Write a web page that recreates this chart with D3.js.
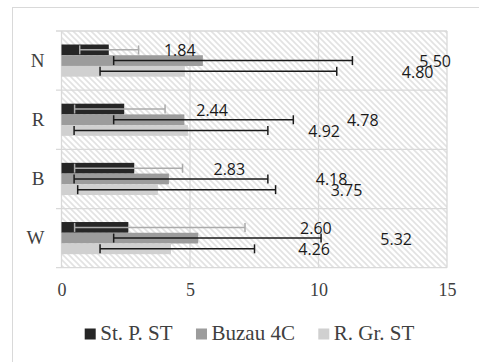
<!DOCTYPE html>
<html>
<head>
<meta charset="utf-8">
<script src="https://cdn.jsdelivr.net/npm/d3@7"></script>
<style>
  html, body { margin: 0; padding: 0; background: #ffffff; }
  svg { display: block; }
</style>
</head>
<body>
<svg id="chart" width="479" height="362"></svg>
<script>
// ---- data ----
const categories = ["N", "R", "B", "W"];
const seriesNames = ["St. P. ST", "Buzau 4C", "R. Gr. ST"];
// mean values per category, per series
const stpValues   = [1.84, 2.44, 2.83, 2.60];
const buzauValues = [5.50, 4.78, 4.18, 5.32];
const rgrValues   = [4.80, 4.92, 3.75, 4.26];
// error bar extents (low / high)
const stpErrLow    = [0.71, 0.51, 0.51, 0.51];
const stpErrHigh   = [3.00, 4.03, 4.71, 7.14];
const buzauErrLow  = [2.03, 2.03, 0.49, 2.03];
const buzauErrHigh = [11.32, 9.02, 8.03, 10.10];
const rgrErrLow    = [1.50, 0.49, 0.63, 1.50];
const rgrErrHigh   = [10.71, 8.03, 8.33, 7.51];
// data-label anchor positions (in value units, as placed in the original)
const stpLabelAt   = [4.60, 5.86, 6.53, 9.90];
const buzauLabelAt = [14.54, 11.72, 10.51, 13.02];
const rgrLabelAt   = [13.86, 10.22, 11.09, 9.83];
const xTicks = [0, 5, 10, 15];

// ---- build ----
const SERIF = "Liberation Serif, Tinos, Times New Roman, Times, Noto Serif, DejaVu Serif, FreeSerif, serif";
const SANS = "Open Sans, Liberation Sans, sans-serif";

const series = [
  { name: seriesNames[0], values: stpValues, lo: stpErrLow, hi: stpErrHigh, lab: stpLabelAt, color: "#262626", err: "#ababab" },
  { name: seriesNames[1], values: buzauValues, lo: buzauErrLow, hi: buzauErrHigh, lab: buzauLabelAt, color: "#9c9c9c", err: "#1a1a1a" },
  { name: seriesNames[2], values: rgrValues, lo: rgrErrLow, hi: rgrErrHigh, lab: rgrLabelAt, color: "#d0d0d0", err: "#1a1a1a" }
];

const svg = d3.select("#chart");
const W = 479, H = 362;
const plot = { left: 61.5, right: 447, top: 31, bottom: 267.7 };

// chart border
svg.append("rect").attr("x", 12.5).attr("y", 7.5).attr("width", W).attr("height", H)
  .attr("fill", "#fff").attr("stroke", "#d9d9d9").attr("stroke-width", 1);

// hatch pattern
const defs = svg.append("defs");
const pat = defs.append("pattern").attr("id", "hatch").attr("patternUnits", "userSpaceOnUse")
  .attr("width", 6).attr("height", 6);
pat.append("rect").attr("width", 6).attr("height", 6).attr("fill", "#ffffff");
pat.append("path").attr("d", "M-1,-1 L7,7 M-1,5 L1,7 M5,-1 L7,1")
  .attr("stroke", "#e2e2e2").attr("stroke-width", 1.6);

const x = d3.scaleLinear().domain([0, 15]).range([plot.left, plot.right]);
const y0 = d3.scaleBand().domain(categories).range([plot.top, plot.bottom]).paddingInner(0).paddingOuter(0);
const y1 = d3.scaleBand().domain(d3.range(series.length)).range([0, y0.bandwidth()])
  .paddingInner(0).paddingOuter(1.26);

// plot background
svg.append("rect").attr("x", plot.left).attr("y", plot.top)
  .attr("width", plot.right - plot.left).attr("height", plot.bottom - plot.top)
  .attr("fill", "url(#hatch)");

// vertical gridlines
svg.append("g").selectAll("line").data(xTicks).join("line")
  .attr("x1", d => x(d)).attr("x2", d => x(d))
  .attr("y1", plot.top).attr("y2", plot.bottom)
  .attr("stroke", "#d9d9d9").attr("stroke-width", 1.3);

// horizontal category separators (with outward ticks)
const edges = categories.map(c => y0(c)).concat([plot.bottom]);
svg.append("g").selectAll("line").data(edges).join("line")
  .attr("x1", plot.left - 5.5).attr("x2", plot.right)
  .attr("y1", d => d).attr("y2", d => d)
  .attr("stroke", "#d9d9d9").attr("stroke-width", 1.3);

// bars
const groups = svg.append("g").selectAll("g").data(categories).join("g")
  .attr("transform", c => `translate(0,${y0(c)})`);

series.forEach((s, si) => {
  groups.append("rect")
    .attr("x", x(0))
    .attr("y", y1(si))
    .attr("width", (c, i) => x(s.values[i]) - x(0))
    .attr("height", y1.bandwidth())
    .attr("fill", s.color);
});

// error bars
const capH = 9;
series.forEach((s, si) => {
  const eg = groups.append("g").attr("stroke", s.err).attr("stroke-width", 1.5).attr("fill", "none");
  const cy = y1(si) + y1.bandwidth() / 2;
  eg.append("line")
    .attr("x1", (c, i) => x(s.lo[i])).attr("x2", (c, i) => x(s.hi[i]))
    .attr("y1", cy).attr("y2", cy);
  eg.append("line")
    .attr("x1", (c, i) => x(s.lo[i])).attr("x2", (c, i) => x(s.lo[i]))
    .attr("y1", cy - capH / 2).attr("y2", cy + capH / 2);
  eg.append("line")
    .attr("x1", (c, i) => x(s.hi[i])).attr("x2", (c, i) => x(s.hi[i]))
    .attr("y1", cy - capH / 2).attr("y2", cy + capH / 2);
});

// data labels
series.forEach((s, si) => {
  const cy = y1(si) + y1.bandwidth() / 2;
  groups.append("text")
    .attr("x", (c, i) => x(s.lab[i]))
    .attr("y", cy + 6.5)
    .attr("text-anchor", "middle")
    .style("font-family", SANS)
    .style("font-size", "16px")
    .attr("fill", "#1a1a1a")
    .text((c, i) => s.values[i].toFixed(2));
});

// category labels
svg.append("g").selectAll("text").data(categories).join("text")
  .attr("x", 44.5)
  .attr("y", c => y0(c) + y0.bandwidth() / 2 + 6.3)
  .attr("text-anchor", "end")
  .style("font-family", SERIF)
  .style("font-size", "19px")
  .attr("fill", "#404040")
  .text(d => d);

// x axis tick labels
const xAxis = d3.axisBottom(x).tickValues(xTicks).tickSize(0).tickPadding(0).tickFormat(d3.format("d"));
const axG = svg.append("g").attr("transform", `translate(0,${plot.bottom})`).call(xAxis);
axG.attr("font-family", null).attr("font-size", null);
axG.select(".domain").remove();
axG.selectAll("text")
  .attr("y", 23).attr("dy", "0.32em")
  .style("font-family", SERIF)
  .style("font-size", "18px")
  .attr("fill", "#404040");

// legend
const leg = svg.append("g");
const sq = 11, gapSq = 4.5, gapItem = 23.4;
let cx = 0;
series.forEach(s => {
  const g = leg.append("g").attr("transform", `translate(${cx},0)`);
  g.append("rect").attr("x", 0).attr("y", -11).attr("width", sq).attr("height", sq).attr("fill", s.color);
  const t = g.append("text").attr("x", sq + gapSq).attr("y", 0)
    .style("font-family", SERIF)
    .style("font-size", "21px").attr("fill", "#404040").text(s.name);
  const w = t.node().getComputedTextLength();
  cx += sq + gapSq + w + gapItem;
});
const total = cx - gapItem;
leg.attr("transform", `translate(${249.5 - total / 2},339.5)`);
</script>
</body>
</html>
